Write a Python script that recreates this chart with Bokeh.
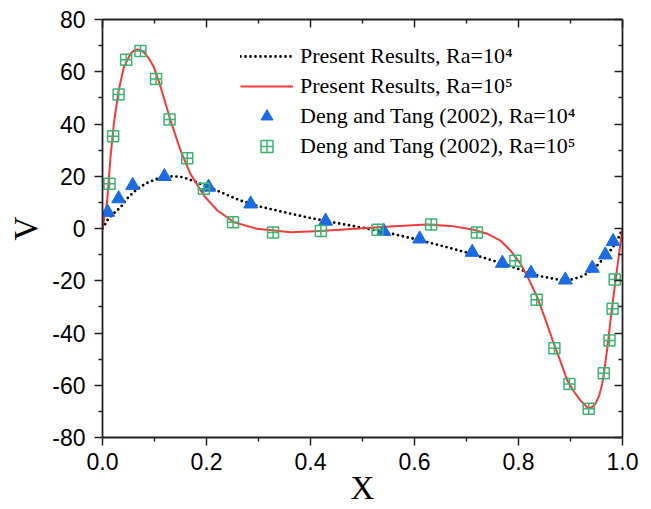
import math
from bokeh.plotting import figure
from bokeh.models import (Range1d, LinearAxis, FixedTicker, Legend, LegendItem)
from bokeh.embed import file_html
from bokeh.resources import INLINE

# ---------------- data ----------------
# Present results, Ra=10^5 (red solid line)
x_red = [0, 0.009, 0.0154, 0.0218, 0.031, 0.041, 0.054, 0.061, 0.067, 0.073, 0.079, 0.089,
         0.099, 0.112, 0.131, 0.15, 0.169, 0.195, 0.221, 0.253, 0.297, 0.362, 0.42, 0.47,
         0.515, 0.57, 0.624, 0.67, 0.714, 0.74, 0.765, 0.785, 0.804, 0.82, 0.836, 0.852,
         0.868, 0.882, 0.894, 0.907, 0.919, 0.932, 0.94, 0.948, 0.955, 0.961, 0.966, 0.971,
         0.980, 0.990, 0.996, 1.0]
v_red = [0, 10.7, 27.3, 40.0, 52.8, 61.7, 66.9, 68.2, 68.5, 68.3, 67.5, 65.2,
         61.7, 54.1, 41.3, 29.9, 20.9, 12.6, 6.9, 2.4, -0.1, -1.4, -1.0, -0.3,
         0.3, 1.0, 1.5, 1.0, -0.5, -2.0, -4.6, -8.5, -13.5, -19.5, -26.3, -35.0,
         -44.1, -51.5, -58.2, -62.5, -65.8, -68.4, -68.6, -67.1, -64.0, -59.5, -53.0, -45.4,
         -30.1, -14.8, -5.9, 0]

# Present results, Ra=10^4 (black dotted line)
x_blk = [0, 0.012, 0.035, 0.05, 0.067, 0.085, 0.105, 0.12, 0.137, 0.155, 0.169, 0.185,
         0.201, 0.227, 0.265, 0.3, 0.35, 0.4, 0.45, 0.5, 0.55, 0.6, 0.65, 0.7, 0.75, 0.8,
         0.84, 0.88, 0.9, 0.919, 0.936, 0.951, 0.965, 0.977, 0.986, 0.993, 1.0]
v_blk = [0, 4.0, 8.2, 12.0, 15.2, 17.4, 19.0, 19.7, 20.0, 19.6, 18.6, 17.4,
         16.2, 13.9, 10.7, 8.5, 6.2, 4.0, 2.1, 0.3, -1.7, -4.0, -6.5, -9.2, -12.2, -15.5,
         -18.2, -19.7, -19.6, -18.6, -16.8, -14.2, -11.2, -8.4, -5.8, -3.3, 0]

# Deng and Tang (2002), Ra=10^4 (blue triangles)
x_tri = [0.010, 0.031, 0.058, 0.119, 0.204, 0.285, 0.429, 0.541, 0.610, 0.711, 0.769,
         0.824, 0.890, 0.942, 0.967, 0.982]
v_tri = [6.2, 11.4, 16.5, 19.9, 15.8, 9.4, 2.8, -1.1, -4.0, -9.1, -13.3,
         -17.1, -19.7, -15.2, -10.1, -5.0]

# Deng and Tang (2002), Ra=10^5 (green squares)
x_sq = [0.0135, 0.0205, 0.031, 0.0455, 0.073, 0.103, 0.129, 0.163, 0.195, 0.251, 0.328,
        0.42, 0.529, 0.632, 0.72, 0.794, 0.835, 0.869, 0.898, 0.935, 0.964, 0.975, 0.981, 0.985]
v_sq = [17.1, 35.3, 51.3, 64.6, 67.9, 57.2, 41.7, 26.9, 15.2, 2.4, -1.5,
        -1.0, -0.5, 1.5, -1.5, -12.3, -27.3, -45.8, -59.5, -69.0, -55.4, -42.9, -30.7, -19.5]

x_ticks = [0.0, 0.2, 0.4, 0.6, 0.8, 1.0]
x_tick_labels = ["0.0", "0.2", "0.4", "0.6", "0.8", "1.0"]
x_minor = [0.1, 0.3, 0.5, 0.7, 0.9]
y_ticks = [-80, -60, -40, -20, 0, 20, 40, 60, 80]
y_tick_labels = ["-80", "-60", "-40", "-20", "0", "20", "40", "60", "80"]
y_minor = [-70, -50, -30, -10, 10, 30, 50, 70]

legend_labels = ["Present Results, Ra=10\u2074", "Present Results, Ra=10\u2075",
                 "Deng and Tang (2002), Ra=10\u2074", "Deng and Tang (2002), Ra=10\u2075"]
x_title = "X"
y_title = "V"

# ---------------- figure ----------------
p = figure(width=651, height=509, output_backend="svg", toolbar_location=None,
           x_range=Range1d(0, 1), y_range=Range1d(-80, 80),
           min_border_left=102, min_border_right=29, min_border_top=19, min_border_bottom=72)
p.grid.visible = False
p.outline_line_color = None
p.background_fill_color = "white"
p.border_fill_color = "white"

AX_COL = "#222222"
TICK_FONT = "Liberation Sans"

def style_axis(ax, ticks, minor, labels, show_labels, inward, standoff=8):
    ax.ticker = FixedTicker(ticks=ticks, minor_ticks=minor)
    ax.axis_line_color = AX_COL
    ax.axis_line_width = 1.8
    ax.major_tick_line_color = AX_COL
    ax.minor_tick_line_color = AX_COL
    ax.major_tick_line_width = 1.5
    ax.minor_tick_line_width = 1.5
    if inward:
        ax.major_tick_in = 8
        ax.major_tick_out = 0
        ax.minor_tick_in = 4
        ax.minor_tick_out = 0
    else:
        ax.major_tick_in = 0
        ax.major_tick_out = 8
        ax.minor_tick_in = 0
        ax.minor_tick_out = 4
    if show_labels:
        ax.major_label_overrides = {t: l for t, l in zip(ticks, labels)}
        ax.major_label_text_font = TICK_FONT
        ax.major_label_text_font_size = "23px"
        ax.major_label_text_color = "black"
        ax.major_label_standoff = standoff
    else:
        ax.major_label_text_font_size = "0px"
        ax.major_label_standoff = 0
        ax.major_label_text_alpha = 0

xa = p.xaxis[0]
ya = p.yaxis[0]
style_axis(xa, x_ticks, x_minor, x_tick_labels, True, False, standoff=7)
style_axis(ya, y_ticks, y_minor, y_tick_labels, True, False, standoff=9)

xa.axis_label = x_title
xa.axis_label_text_font = "Liberation Serif"
xa.axis_label_text_font_size = "33px"
xa.axis_label_text_font_style = "normal"
xa.axis_label_text_color = "black"
xa.axis_label_standoff = -3

ya.axis_label = y_title
ya.axis_label_text_font = "Liberation Serif"
ya.axis_label_text_font_size = "33px"
ya.axis_label_text_font_style = "normal"
ya.axis_label_text_color = "black"
ya.axis_label_standoff = 5

top = LinearAxis()
style_axis(top, x_ticks, x_minor, x_tick_labels, False, True)
p.add_layout(top, "above")
right = LinearAxis()
style_axis(right, y_ticks, y_minor, y_tick_labels, False, True)
p.add_layout(right, "right")

# ---------------- glyphs ----------------
r_blk = p.line(x_blk, v_blk, line_color="black", line_width=2.8, line_dash="0 5",
               line_cap="round")
r_red = p.line(x_red, v_red, line_color="#f23b3b", line_width=2.0)
r_tri = p.scatter(x_tri, v_tri, marker="triangle", size=14, fill_color="#1c6be0",
                  line_color="#1c6be0", line_width=1)
r_sq = p.scatter(x_sq, v_sq, marker="square_cross", size=11, fill_color=None,
                 line_color="#3cb371", line_width=1.5)

legend = Legend(items=[LegendItem(label=legend_labels[0], renderers=[r_blk]),
                       LegendItem(label=legend_labels[1], renderers=[r_red]),
                       LegendItem(label=legend_labels[2], renderers=[r_tri]),
                       LegendItem(label=legend_labels[3], renderers=[r_sq])],
                location=(138, 276))
legend.border_line_color = None
legend.background_fill_alpha = 0
legend.padding = 0
legend.margin = 0
legend.spacing = 0
legend.glyph_width = 53
legend.glyph_height = 30
legend.label_height = 30
legend.label_standoff = 7
legend.label_text_font = "Liberation Serif"
legend.label_text_font_size = "22px"
legend.label_text_color = "black"
p.add_layout(legend, "center")

open("out.html", "w").write(file_html(p, INLINE))
